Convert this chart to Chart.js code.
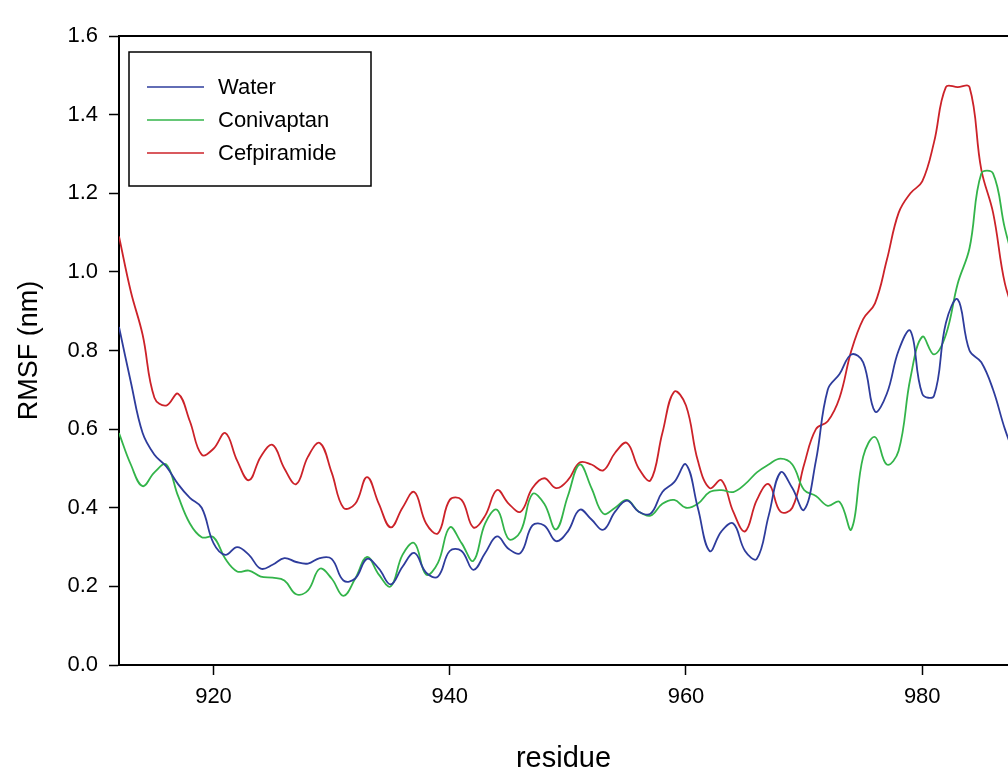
<!DOCTYPE html>
<html lang="en">
<head>
  <meta charset="UTF-8" />
  <title>RMSF per residue</title>
  <script src="https://cdn.jsdelivr.net/npm/chart.js"></script>
  <style>
    * {
      box-sizing: border-box;
    }

    body {
      margin: 0;
      background: #ffffff;
    }

    .chart-container {
      width: 1008px;
      height: 768px;
    }
  </style>
</head>
<body>

  <div class="chart-container">
    <canvas id="rmsfChart"></canvas>
  </div>

  <script>
    // residue numbers
    const residues = [
      912, 913, 914, 915, 916, 917, 918, 919, 920, 921, 922, 923, 924, 925, 926, 927,
      928, 929, 930, 931, 932, 933, 934, 935, 936, 937, 938, 939, 940, 941, 942, 943,
      944, 945, 946, 947, 948, 949, 950, 951, 952, 953, 954, 955, 956, 957, 958, 959,
      960, 961, 962, 963, 964, 965, 966, 967, 968, 969, 970, 971, 972, 973, 974, 975,
      976, 977, 978, 979, 980, 981, 982, 983, 984, 985, 986, 987, 988
    ];

    const water = [
      0.86, 0.72, 0.59, 0.535, 0.505, 0.46, 0.425, 0.40, 0.31, 0.28, 0.30, 0.28, 0.245, 0.255, 0.272, 0.262,
      0.258, 0.272, 0.27, 0.215, 0.22, 0.27, 0.245, 0.205, 0.25, 0.285, 0.235, 0.225, 0.29, 0.29, 0.242, 0.285,
      0.327, 0.295, 0.285, 0.355, 0.355, 0.315, 0.34, 0.395, 0.37, 0.344, 0.39, 0.418, 0.39, 0.385, 0.44, 0.465,
      0.51, 0.40, 0.29, 0.34, 0.36, 0.29, 0.27, 0.38, 0.49, 0.45, 0.395, 0.52, 0.70, 0.74, 0.79, 0.77,
      0.645, 0.69, 0.80, 0.85, 0.69, 0.685, 0.87, 0.93, 0.80, 0.77, 0.70, 0.60, 0.52
    ];

    const conivaptan = [
      0.59, 0.51, 0.455, 0.49, 0.51, 0.43, 0.36, 0.325, 0.325, 0.27, 0.238, 0.24, 0.225, 0.222, 0.215, 0.18,
      0.19, 0.245, 0.22, 0.176, 0.22, 0.275, 0.23, 0.20, 0.28, 0.31, 0.23, 0.26, 0.35, 0.31, 0.265, 0.36,
      0.395, 0.32, 0.34, 0.435, 0.41, 0.345, 0.43, 0.51, 0.45, 0.385, 0.40, 0.42, 0.39, 0.38, 0.41, 0.42,
      0.40, 0.41, 0.44, 0.445, 0.44, 0.46, 0.49, 0.51, 0.525, 0.51, 0.445, 0.43, 0.405, 0.415, 0.345, 0.53,
      0.58, 0.51, 0.545, 0.73, 0.835, 0.79, 0.84, 0.97, 1.06, 1.25, 1.25, 1.11, 1.00
    ];

    const cefpiramide = [
      1.09, 0.95, 0.84, 0.68, 0.66, 0.69, 0.62, 0.535, 0.55, 0.59, 0.52, 0.47, 0.53, 0.56, 0.50, 0.46,
      0.53, 0.565, 0.49, 0.40, 0.41, 0.478, 0.41, 0.35, 0.40, 0.44, 0.36, 0.335, 0.42, 0.42, 0.35, 0.38,
      0.445, 0.41, 0.39, 0.45, 0.475, 0.45, 0.47, 0.515, 0.51, 0.495, 0.54, 0.565, 0.50, 0.47, 0.59, 0.695,
      0.66, 0.52, 0.45, 0.47, 0.39, 0.34, 0.42, 0.46, 0.39, 0.40, 0.51, 0.60, 0.62, 0.68, 0.80, 0.88,
      0.92, 1.03, 1.15, 1.20, 1.23, 1.33, 1.47, 1.47, 1.47, 1.26, 1.15, 0.97, 0.88
    ];

    const seriesNames = ['Water', 'Conivaptan', 'Cefpiramide'];
    const seriesColors = ['#2e3c9c', '#33b44a', '#cc2229'];
    const xTicks = [920, 940, 960, 980];

    const FONT = "'Liberation Sans', Arial, sans-serif";

    function toPoints(values) {
      return residues.map((r, i) => ({ x: r, y: values[i] }));
    }

    // top frame line + boxed legend inside the plot
    const framePlugin = {
      id: 'frame',
      afterDraw(chart) {
        const { ctx, chartArea } = chart;
        ctx.save();
        ctx.strokeStyle = '#000';
        ctx.lineWidth = 2;
        ctx.beginPath();
        ctx.moveTo(chartArea.left, chartArea.top);
        ctx.lineTo(chartArea.right, chartArea.top);
        ctx.stroke();

        // legend box
        const bx = chartArea.left + 10, by = chartArea.top + 16, bw = 242, bh = 134;
        ctx.lineWidth = 1.5;
        ctx.strokeRect(bx, by, bw, bh);
        ctx.font = '22px ' + FONT;
        ctx.textBaseline = 'middle';
        ctx.fillStyle = '#000';
        chart.data.datasets.forEach((ds, i) => {
          const yy = by + 35 + i * 33;
          ctx.strokeStyle = ds.borderColor;
          ctx.lineWidth = 1.5;
          ctx.beginPath();
          ctx.moveTo(bx + 18, yy);
          ctx.lineTo(bx + 75, yy);
          ctx.stroke();
          ctx.fillText(ds.label, bx + 89, yy + 1);
        });
        ctx.restore();
      }
    };

    const ctx = document.getElementById('rmsfChart').getContext('2d');

    const rmsfChart = new Chart(ctx, {
      type: 'line',
      data: {
        datasets: [water, conivaptan, cefpiramide].map((vals, i) => ({
          label: seriesNames[i],
          data: toPoints(vals),
          borderColor: seriesColors[i],
          borderWidth: 1.8,
          pointRadius: 0,
          tension: 0.4,
          fill: false
        }))
      },
      options: {
        responsive: true,
        maintainAspectRatio: false,
        animation: false,
        layout: {
          padding: { top: 36, right: 0, left: 0, bottom: 0 }
        },
        plugins: {
          legend: { display: false },
          tooltip: { enabled: false }
        },
        scales: {
          x: {
            type: 'linear',
            min: 912,
            max: 987.26,
            afterBuildTicks(scale) {
              scale.ticks = xTicks.map(v => ({ value: v }));
            },
            afterFit(scale) {
              scale.height = 103;
            },
            border: { display: true, color: '#000', width: 2 },
            grid: {
              drawOnChartArea: false,
              drawTicks: true,
              tickLength: 10,
              tickColor: '#000',
              tickWidth: 1.5
            },
            ticks: {
              color: '#000',
              font: { family: FONT, size: 22 },
              padding: 9,
              maxRotation: 0
            },
            title: {
              display: true,
              text: 'residue',
              color: '#000',
              font: { family: FONT, size: 29 },
              padding: { top: 0, bottom: -8 }
            }
          },
          y: {
            min: 0,
            max: 1.6,
            afterFit(scale) {
              scale.width = 119;
            },
            border: { display: true, color: '#000', width: 2 },
            grid: {
              drawOnChartArea: false,
              drawTicks: true,
              tickLength: 10,
              tickColor: '#000',
              tickWidth: 1.5
            },
            ticks: {
              stepSize: 0.2,
              color: '#000',
              font: { family: FONT, size: 22 },
              padding: 11,
              callback: v => v.toFixed(1)
            },
            title: {
              display: true,
              text: 'RMSF (nm)',
              color: '#000',
              font: { family: FONT, size: 27 },
              padding: { top: 13, bottom: 0 }
            }
          }
        }
      },
      plugins: [framePlugin]
    });
  </script>
</body>
</html>
